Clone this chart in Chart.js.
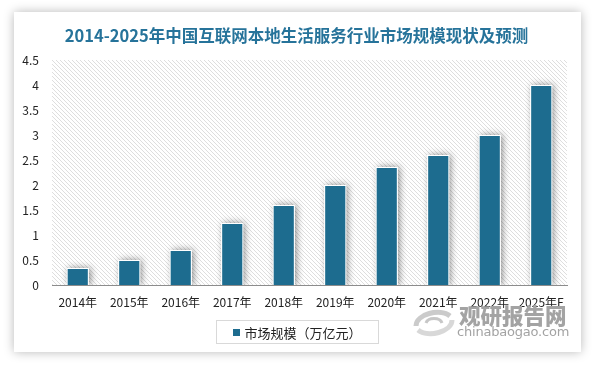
<!DOCTYPE html>
<html>
<head>
<meta charset="utf-8">
<script src="https://cdn.jsdelivr.net/npm/chart.js@4.4.1/dist/chart.umd.min.js"></script>
<style>
  body { margin: 0; background: #fff; }
  #wrap { position: relative; width: 593px; height: 366px; overflow: hidden; background: #fff; }
  #card { position: absolute; left: 14px; top: 12px; width: 567px; height: 340px; background: #fff;
          box-shadow: 0 0 10px rgba(0,0,0,0.28); }
  #title { position: absolute; left: 0; width: 593px; top: 23px; text-align: center;
           font: bold 16.5px "Noto Sans CJK SC", sans-serif; color: #26739a; white-space: nowrap; }
  #chart { position: absolute; left: 0; top: 0; }
  #legend { position: absolute; left: 216px; top: 320px; width: 161px; height: 22px;
            border: 1px solid #d9d9d9; display: flex; align-items: center; justify-content: center;
            font: 13px "Noto Sans CJK SC", sans-serif; color: #222; }
  #legend span.sw { display: inline-block; width: 7px; height: 7px; margin-right: 4px; }
  #wm1 { position: absolute; left: 459px; top: 299px; font: 900 21.5px "Noto Sans CJK SC", sans-serif;
         color: #a3a3a3; letter-spacing: 0px; }
  #wm2 { position: absolute; left: 457px; top: 324px; font: 13px "DejaVu Sans", sans-serif;
         color: #a3a3a3; letter-spacing: -0.2px; }
  #logo { position: absolute; left: 410px; top: 306px; opacity: 0.7; }
</style>
</head>
<body>
<div id="wrap">
  <div id="card"></div>
  <canvas id="chart" width="593" height="366"></canvas>
  <div id="title"></div>
  <div id="legend"></div>
  <svg id="logo" width="48" height="34" viewBox="0 0 48 34">
    <path d="M6 20 C6 8, 30 2, 40 10" stroke="#b5b5b5" stroke-width="5" fill="none"/>
    <path d="M42 14 C42 26, 18 32, 8 24" stroke="#c8c8c8" stroke-width="5" fill="none"/>
    <path d="M16 17 C18 11, 30 11, 32 17" stroke="#b0b0b0" stroke-width="3" fill="none"/>
  </svg>
  <div id="wm1">观研报告网</div>
  <div id="wm2">chinabaogao.com</div>
</div>
<script>
// 数据
const titulo = "2014-2025年中国互联网本地生活服务行业市场规模现状及预测";
const anos = ["2014年", "2015年", "2016年", "2017年", "2018年", "2019年", "2020年", "2021年", "2022年", "2025年E"];
const valores = [0.34, 0.5, 0.7, 1.24, 1.6, 2.0, 2.36, 2.6, 3.0, 4.0];
const serieNome = "市场规模（万亿元）";
const corBarra = "#1d6c8f";

document.getElementById("title").textContent = titulo;
const legenda = document.getElementById("legend");
legenda.innerHTML = '<span class="sw" style="background:' + corBarra + '"></span><span></span>';
legenda.lastChild.textContent = serieNome;

// fundo hachurado da área do gráfico
function criarHachura() {
  const s = 4;
  const c = document.createElement("canvas");
  c.width = s; c.height = s;
  const g = c.getContext("2d");
  g.fillStyle = "#fff";
  g.fillRect(0, 0, s, s);
  g.strokeStyle = "#dedede";
  g.lineWidth = 1;
  g.beginPath();
  g.moveTo(0, 0); g.lineTo(s, s);
  g.moveTo(-1, s - 1); g.lineTo(1, s + 1);
  g.moveTo(s - 1, -1); g.lineTo(s + 1, 1);
  g.stroke();
  return c;
}

const fundoPlugin = {
  id: "fundo",
  beforeDraw(chart) {
    const { ctx, chartArea: a } = chart;
    ctx.save();
    ctx.fillStyle = ctx.createPattern(criarHachura(), "repeat");
    ctx.fillRect(a.left, a.top, a.right - a.left, a.bottom - a.top);
    ctx.restore();
  },
  beforeDatasetsDraw(chart) {
    // sombra das barras
    const { ctx, chartArea: a } = chart;
    const meta = chart.getDatasetMeta(0);
    ctx.save();
    ctx.beginPath();
    ctx.rect(a.left, a.top - 10, a.right - a.left, a.bottom - a.top + 10);
    ctx.clip();
    meta.data.forEach(bar => {
      const p = bar.getProps(["x", "y", "base", "width"], true);
      ctx.shadowColor = "rgba(0,0,0,0.45)";
      ctx.shadowBlur = 7;
      ctx.shadowOffsetX = 2;
      ctx.shadowOffsetY = 0;
      ctx.fillStyle = "#fff";
      ctx.fillRect(p.x - p.width / 2, p.y, p.width, p.base - p.y);
    });
    ctx.restore();
  }
};

const ctx = document.getElementById("chart").getContext("2d");
new Chart(ctx, {
  type: "bar",
  data: {
    labels: anos,
    datasets: [{
      label: serieNome,
      data: valores,
      backgroundColor: corBarra,
      borderColor: "#ffffff",
      borderWidth: 1,
      categoryPercentage: 1,
      barPercentage: 0.43
    }]
  },
  options: {
    responsive: false,
    animation: false,
    layout: { padding: { left: 0, right: 26, top: 60, bottom: 0 } },
    plugins: {
      legend: { display: false },
      title: { display: false },
      tooltip: { enabled: false }
    },
    scales: {
      x: {
        grid: { display: false, drawTicks: false },
        border: { display: true, color: "#8c8c8c", width: 1 },
        ticks: {
          color: "#222",
          padding: 10,
          maxRotation: 0,
          autoSkip: false,
          font: { family: "'Noto Sans CJK SC', sans-serif", size: 12 }
        },
        afterFit(scale) { scale.height = 81; }
      },
      y: {
        min: 0,
        max: 4.5,
        grid: { display: false, drawTicks: false },
        border: { display: false },
        ticks: {
          stepSize: 0.5,
          color: "#222",
          padding: 13,
          callback: v => String(v),
          font: { family: "'Noto Sans CJK SC', sans-serif", size: 12 }
        },
        afterFit(scale) { scale.width = 52; }
      }
    }
  },
  plugins: [fundoPlugin]
});
</script>
</body>
</html>
